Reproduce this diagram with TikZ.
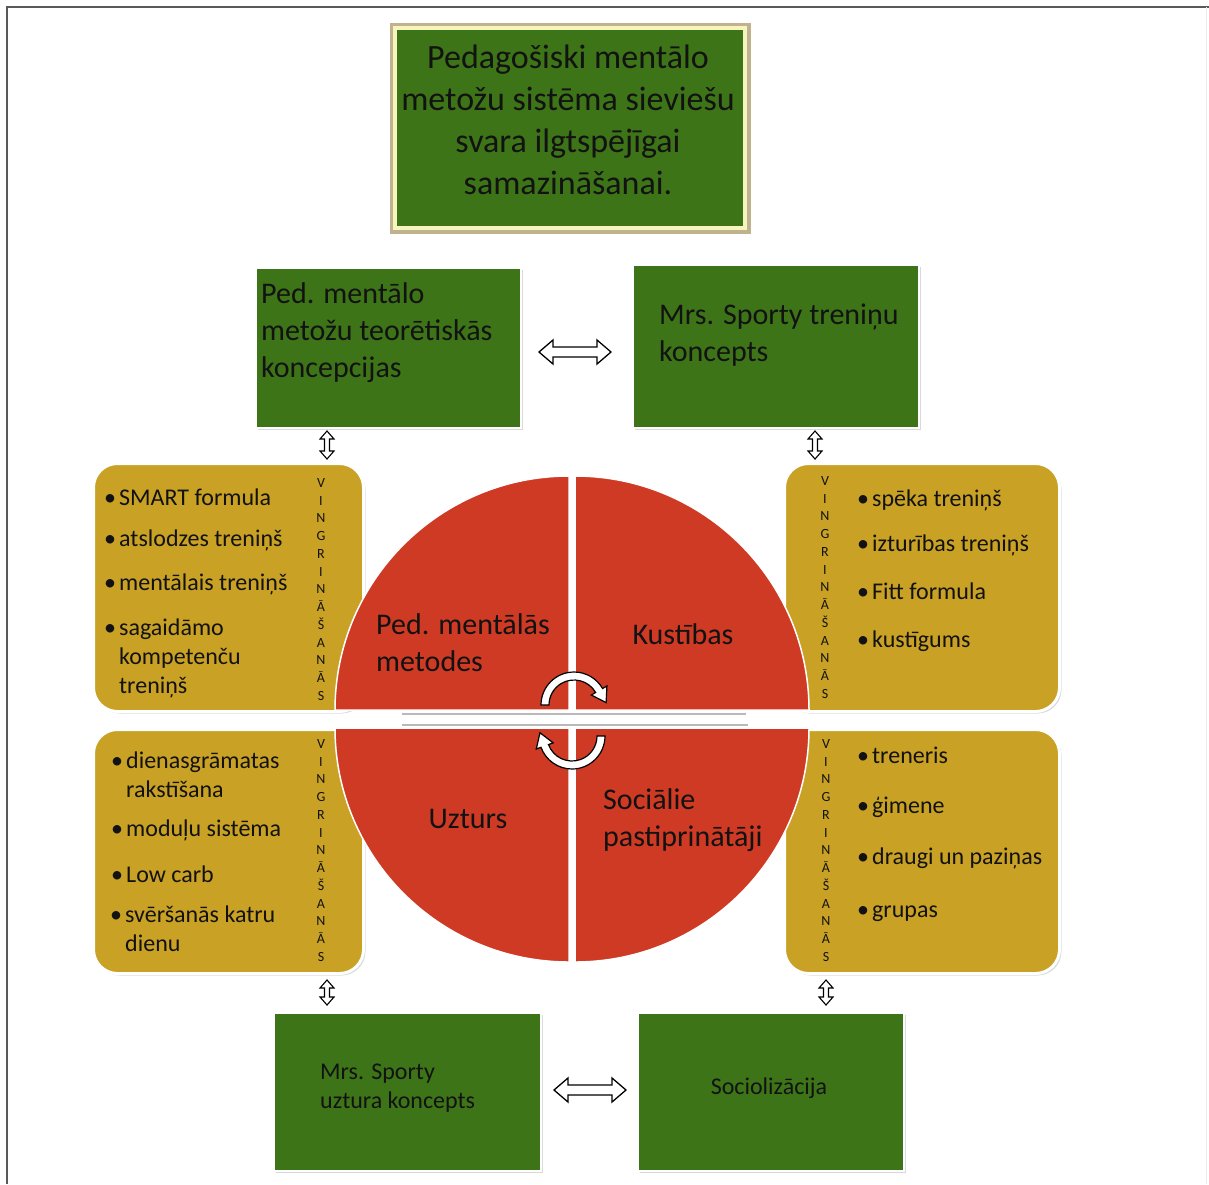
\documentclass[tikz,border=0pt]{standalone}
\usepackage{fontspec}
\setmainfont{Carlito}
\usepackage{tikz}
\usetikzlibrary{shadows,calc}
\definecolor{grn}{RGB}{62,116,24}
\definecolor{gld}{RGB}{201,161,36}
\definecolor{rd}{RGB}{206,58,36}
\definecolor{cream}{RGB}{248,244,190}
\definecolor{ttlglow}{RGB}{165,145,95}
\definecolor{frm}{gray}{0.35}
\definecolor{txt}{gray}{0.07}

\newcommand{\ttlfont}{\fontsize{34}{42}\selectfont}
\newcommand{\boxfont}{\fontsize{30}{37}\selectfont}
\newcommand{\listfont}{\fontsize{24}{29}\selectfont}
\newcommand{\vfont}{\fontsize{14}{17.75}\selectfont}
\newcommand{\blt}[1]{\makebox[15pt][l]{\textbullet}\begin{tabular}[t]{@{}l@{}}#1\end{tabular}}
\newcommand{\vingr}{V\\I\\N\\G\\R\\I\\N\\Ā\\Š\\A\\N\\Ā\\S}

\begin{document}
\begin{tikzpicture}[x=1pt,y=-1pt,
	grbox/.style={draw=white,line width=2pt,fill=grn,anchor=north west,inner sep=0pt,
		drop shadow={opacity=0.3,shadow xshift=2pt,shadow yshift=-2pt}},
	gdbox/.style={draw=white,line width=3pt,fill=gld,rounded corners=24pt,anchor=north west,inner sep=0pt,
		drop shadow={opacity=0.3,shadow xshift=2pt,shadow yshift=-2pt}},
	quad/.style={fill=rd,draw=white,line width=1.5pt},
	lbl/.style={font=\boxfont,text=txt,inner sep=0pt,align=left},
	itm/.style={font=\listfont,text=txt,inner sep=0pt,anchor=west},
	vtx/.style={font=\vfont,text=txt,inner sep=0pt,align=center},
	hblk/.style={draw=black,fill=white,line width=1.3pt,line join=miter,
		to path={let \p1=(\tikztostart),\p2=(\tikztotarget) in
			(\x1,\y1) -- (\x1+14pt,\y1+12pt) -- (\x1+14pt,\y1+5pt) -- (\x2-14pt,\y1+5pt) -- (\x2-14pt,\y1+12pt)
			-- (\x2,\y1) -- (\x2-14pt,\y1-12pt) -- (\x2-14pt,\y1-5pt) -- (\x1+14pt,\y1-5pt) -- (\x1+14pt,\y1-12pt) -- cycle}},
	vblk/.style={draw=black,fill=white,line width=1.1pt,line join=miter,
		to path={let \p1=(\tikztostart),\p2=(\tikztotarget) in
			(\x1,\y1) -- (\x1+7pt,\y1-8pt) -- (\x1+2.5pt,\y1-8pt) -- (\x1+2.5pt,\y2+8pt) -- (\x1+7pt,\y2+8pt)
			-- (\x1,\y2) -- (\x1-7pt,\y2+8pt) -- (\x1-2.5pt,\y2+8pt) -- (\x1-2.5pt,\y1-8pt) -- (\x1-7pt,\y1-8pt) -- cycle}},
	rotarr/.style={fill=white,draw=black,line width=1.2pt}]
	\useasboundingbox (0,0) rectangle (1209,1184);
	%frame
	\draw[frm,line width=2pt] (7,1184) -- (7,7) -- (1209,7);
	\draw[gray!15,line width=1pt] (1206,7) -- (1206,1184);
	
	%title
	\node[fill=grn,draw=cream,line width=4pt,minimum width=350pt,minimum height=200pt,
		preaction={draw=ttlglow,line width=11pt,rounded corners=4pt,opacity=0.7}] (ttl) at (570,128) {};
		\node[font=\ttlfont,text=txt,align=center,inner sep=0pt] at (568,119.5)
			{Pedagošiski mentālo\\metožu sistēma sieviešu\\svara ilgtspējīgai\\samazināšanai.};
	
	%green boxes
	\node[grbox,minimum width=265pt,minimum height=160pt] (tlg) at (255,267) {};
		\node[lbl,anchor=west] at (261,333) {Ped. mentālo\\metožu teorētiskās\\koncepcijas};
	\node[grbox,minimum width=286pt,minimum height=163pt] (trg) at (632,264) {};
		\node[lbl,anchor=west] at (659,335) {Mrs. Sporty treniņu\\koncepts};
	\node[grbox,minimum width=267pt,minimum height=158pt] (blg) at (273,1012) {};
		\node[font=\listfont,text=txt,inner sep=0pt,align=left,anchor=west] at (320,1088.5) {Mrs. Sporty\\uztura koncepts};
	\node[grbox,minimum width=266pt,minimum height=158pt] (brg) at (637,1012) {};
		\node[font=\listfont,text=txt,inner sep=0pt] at (769,1088) {Sociolizācija};
	
	%gold boxes
	\node[gdbox,minimum width=270pt,minimum height=248pt] (ltb) at (92,462) {};
	\node[gdbox,minimum width=275pt,minimum height=248pt] (rtb) at (783,462) {};
	\node[gdbox,minimum width=270pt,minimum height=244pt] (lbb) at (92,728) {};
	\node[gdbox,minimum width=275pt,minimum height=244pt] (rbb) at (783,728) {};
	
	%circle
	\draw[quad] (569,710) -- ++(180:234) arc[start angle=180,end angle=270,radius=234] -- cycle;
	\draw[quad] (575,710) -- ++(270:234) arc[start angle=270,end angle=360,radius=234] -- cycle;
	\draw[quad] (575,728) -- ++(0:234) arc[start angle=0,end angle=90,radius=234] -- cycle;
	\draw[quad] (569,728) -- ++(90:234) arc[start angle=90,end angle=180,radius=234] -- cycle;
	\draw[gray!55,line width=2pt] (402,714) -- (746,714);
	\draw[gray!55,line width=2pt] (402,725) -- (748,725);
		\node[lbl,anchor=west] at (376,642.5) {Ped. mentālās\\metodes};
		\node[lbl] at (683,634) {Kustības};
		\node[lbl] at (468,819) {Uzturs};
		\node[lbl,anchor=west] at (603,820.5) {Sociālie\\pastiprinātāji};
	
	%round arrows
	\coordinate (ca) at (574,705);
	\coordinate (cb) at (572,736);
	\draw[rotarr] ($(ca)+(180:33)$) arc[start angle=180,end angle=330,radius=33] -- ($(ca)+(330:38)$)
		-- ($(ca)+(330:29)+(60:14)$) -- ($(ca)+(330:20)$) -- ($(ca)+(330:25)$)
		arc[start angle=330,end angle=180,radius=25] -- cycle;
	\draw[rotarr] ($(cb)+(0:33)$) arc[start angle=0,end angle=160,radius=33] -- ($(cb)+(160:38)$)
		-- ($(cb)+(160:29)+(250:14)$) -- ($(cb)+(160:20)$) -- ($(cb)+(160:25)$)
		arc[start angle=160,end angle=0,radius=25] -- cycle;
	
	%lists
	\node[vtx] at (321,589.5) {\vingr};
	\node[itm] at (104,500) {\blt{SMART formula}};
	\node[itm] at (104,541) {\blt{atslodzes treniņš}};
	\node[itm] at (104,585) {\blt{mentālais treniņš}};
	\node[itm] at (104,659) {\blt{sagaidāmo\\kompetenču\\treniņš}};
	
	\node[vtx] at (825,587.5) {\vingr};
	\node[itm] at (857,501) {\blt{spēka treniņš}};
	\node[itm] at (857,546) {\blt{izturības treniņš}};
	\node[itm] at (857,594) {\blt{Fitt formula}};
	\node[itm] at (857,642) {\blt{kustīgums}};
	
	\node[vtx] at (321,850.5) {\vingr};
	\node[itm] at (111,777) {\blt{dienasgrāmatas\\rakstīšana}};
	\node[itm] at (111,831) {\blt{moduļu sistēma}};
	\node[itm] at (111,877) {\blt{Low carb}};
	\node[itm] at (110,931) {\blt{svēršanās katru\\dienu}};
	
	\node[vtx] at (826,850.5) {\vingr};
	\node[itm] at (857,758) {\blt{treneris}};
	\node[itm] at (857,808) {\blt{ģimene}};
	\node[itm] at (857,859) {\blt{draugi un paziņas}};
	\node[itm] at (857,912) {\blt{grupas}};
	
	%arrows
	\coordinate (hu) at (0,352);
	\coordinate (hd) at (0,1090);
	\coordinate (vl) at (327,0);
	\coordinate (vr) at (815,0);
	\coordinate (vs) at (826,0);
	\draw[hblk] ($(tlg.east |- hu)+(17,0)$) to ($(trg.west |- hu)+(-21,0)$);	%concepts
	\draw[hblk] ($(blg.east |- hd)+(12,0)$) to ($(brg.west |- hd)+(-11,0)$);	%nutrition--social
	\draw[vblk] ($(tlg.south -| vl)+(0,2)$) to ($(ltb.north -| vl)+(0,-3)$);	%concepts--methods
	\draw[vblk] ($(trg.south -| vr)+(0,2)$) to ($(rtb.north -| vr)+(0,-3)$);	%training--movement
	\draw[vblk] ($(lbb.south -| vl)+(0,5)$) to ($(blg.north -| vl)+(0,-7)$);	%nutrition
	\draw[vblk] ($(rbb.south -| vs)+(0,5)$) to ($(brg.north -| vs)+(0,-7)$);	%social
\end{tikzpicture}
\end{document}
